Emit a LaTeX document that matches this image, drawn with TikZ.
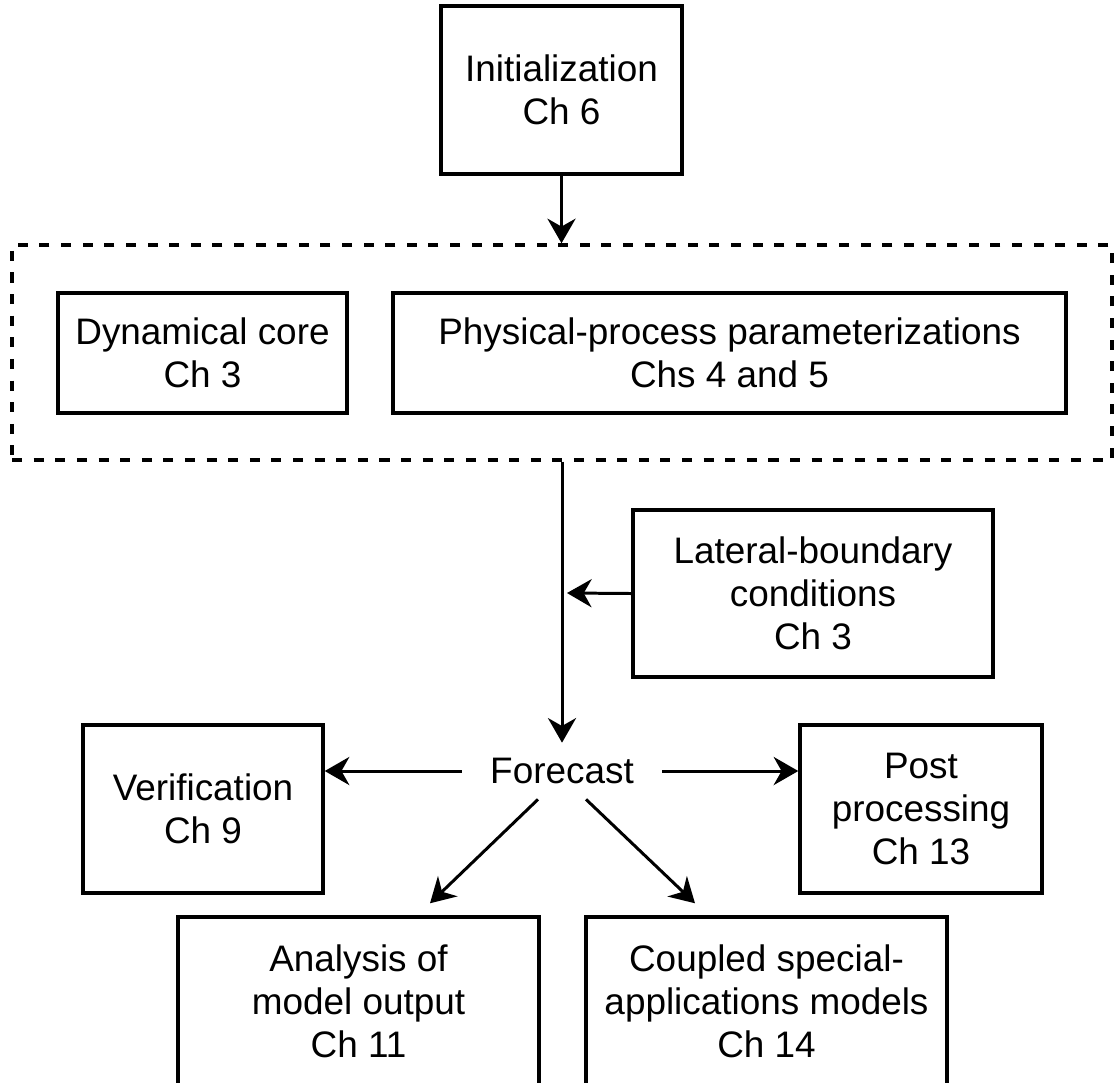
\documentclass[tikz,border=0pt]{standalone}
\usepackage{fontspec}
\setmainfont{Liberation Sans}
\usetikzlibrary{positioning,arrows.meta,calc}
\tikzset{
  blk/.style={draw,line width=2pt,align=center,inner sep=0pt,
    font=\fontsize{21}{24.5}\selectfont},
  grp/.style={draw,line width=2pt,dash pattern=on 5.7pt off 6.6pt,inner sep=0pt},
  lbl/.style={align=center,inner sep=0pt,font=\fontsize{21}{24.5}\selectfont},
  arr/.style={-{Stealth[length=14pt,width=16pt,inset=4.5pt]},line width=1.7pt},
}

\begin{document}
\begin{tikzpicture}[x=0.02cm,y=-0.02cm]
  \useasboundingbox (0,0) rectangle (1114,1082);
  \clip (0,0) rectangle (1114,1082);
  % start
  \node[blk,minimum width=4.82cm,minimum height=3.36cm] (init) at (561.5,90) {Initialization\\Ch 6};
  % model group
  \node[grp,minimum width=22cm,minimum height=4.3cm] (grp) at (562,352.5) {};
  \node[blk,minimum width=5.78cm,minimum height=2.4cm] (dyn) at (202.5,353) {Dynamical core\\Ch 3};
  \node[blk,minimum width=13.46cm,minimum height=2.4cm] (phys) at (729.5,353) {Physical-process parameterizations\\Chs 4 and 5};
  % boundary input
  \node[blk,minimum width=7.2cm,minimum height=3.34cm] (lat) at (813,593.5) {Lateral-boundary\\conditions\\Ch 3};
  % forecast and its uses
  \node[lbl,minimum width=4cm,minimum height=1.12cm] (fc) at (562,771) {Forecast};
  \node[blk,minimum width=4.8cm,minimum height=3.36cm] (ver) at (203,809) {Verification\\Ch 9};
  \node[blk,minimum width=4.84cm,minimum height=3.36cm] (post) at (921,809) {Post\\processing\\Ch 13};
  \node[blk,minimum width=7.22cm,minimum height=3.36cm] (ana) at (358.5,1001) {Analysis of\\model output\\Ch 11};
  \node[blk,minimum width=7.22cm,minimum height=3.36cm] (cpl) at (766.5,1001) {Coupled special-\\applications models\\Ch 14};
  \coordinate (jn) at (567,593);
  % connectors
  \draw[arr] (init.south) -- (init.south |- grp.north);
  \draw[arr] (grp.south) -- (fc.north);
  \draw[arr] (lat.west) -- (jn);
  \draw[arr] (fc.west) -- (fc.west -| ver.east);
  \draw[arr] (fc.east) -- (fc.east -| post.west);
  \draw[arr] ($(fc.south)+(-24,0)$) -- ($(ana.north)+(71.5,-12)$);
  \draw[arr] ($(fc.south)+(24,0)$) -- ($(cpl.north)+(-71.5,-12)$);
\end{tikzpicture}
\end{document}
